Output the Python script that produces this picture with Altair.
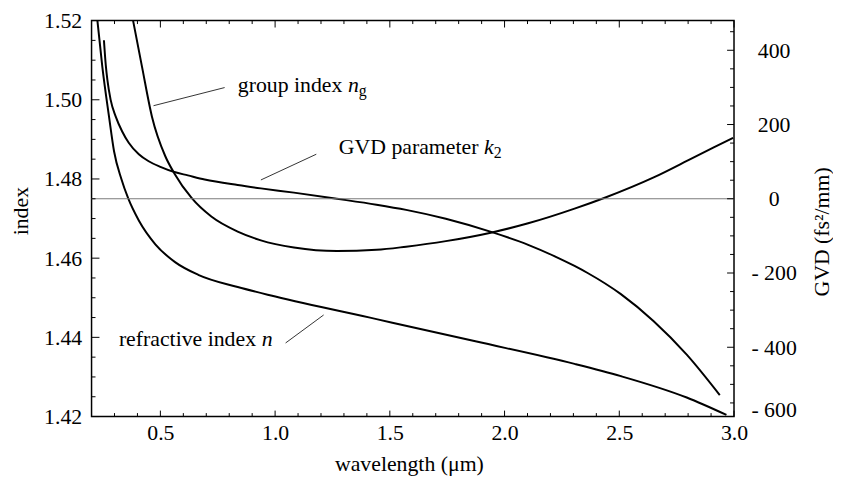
import altair as alt
import pandas as pd
import numpy as np

# ---------------- data ----------------
# refractive index n(lambda)
n_wl = [0.2255, 0.247, 0.276, 0.298, 0.330, 0.359, 0.406, 0.478, 0.564, 0.665, 0.837,
        1.001, 1.442, 1.873, 2.305, 2.507, 2.794, 2.967]
n_val = [1.5200, 1.5083, 1.4958, 1.4870, 1.4800, 1.4752, 1.4695, 1.4635, 1.4590, 1.4558, 1.4527,
         1.4503, 1.4446, 1.4390, 1.4333, 1.4302, 1.4248, 1.4204]

# group index n_g(lambda)
ng_wl = [0.381, 0.420, 0.463, 0.521, 0.561, 0.636, 0.722, 0.837, 0.938, 1.082,
         1.269, 1.442, 1.571, 1.744, 1.945, 2.103, 2.305, 2.434, 2.650, 2.823, 2.996]
ng_val = [1.5200, 1.5083, 1.4958, 1.4858, 1.4814, 1.4752, 1.4705, 1.4667, 1.4645, 1.4627,
          1.4618, 1.4621, 1.4629, 1.4643, 1.4665, 1.4688, 1.4725, 1.4752, 1.4804, 1.4854, 1.4904]

# GVD parameter k2 (fs^2/mm)
gvd_wl = [0.254, 0.262, 0.269, 0.283, 0.305, 0.333, 0.362, 0.406, 0.449, 0.500, 0.561,
          0.620, 0.693, 0.837, 0.938, 1.082, 1.269, 1.442, 1.571, 1.744, 1.945, 2.103, 2.219,
          2.305, 2.362, 2.507, 2.650, 2.794, 2.938]
gvd_val = [427, 360, 320, 267, 222, 182, 151, 120, 101, 86, 72,
           63, 52, 37, 28, 16.5, 0, -16, -30, -54, -90, -124, -155,
           -181, -200, -257, -330, -420, -529]

# axes
x_domain = [0.2, 3.0]
idx_domain = [1.42, 1.52]
gvd_domain = [-586.67, 480.0]

x_major = [0.5, 1.0, 1.5, 2.0, 2.5, 3.0]
x_minor = [round(v, 1) for v in np.arange(0.3, 3.0, 0.1) if round(v, 1) not in x_major]
idx_major = [1.42, 1.44, 1.46, 1.48, 1.50, 1.52]
idx_minor = [round(v, 3) for v in np.arange(1.425, 1.52, 0.005) if round(v, 3) not in idx_major]
gvd_major = [-400, -200, 0, 200, 400]
gvd_minor = [v for v in range(-550, 480, 50) if v not in gvd_major]
gvd_label_values = [gvd_domain[0], -400, -200, 0, 200, 400]
gvd_zero = [0]

# annotations (leader lines, in wavelength / index units)
lead_x = [0.470, 0.938, 1.0457]
lead_x2 = [0.780, 1.1795, 1.2115]
lead_y = [1.4985, 1.47975, 1.43858]
lead_y2 = [1.50308, 1.48625, 1.44565]

txt_norm = ["group index ", "GVD parameter ", "refractive index "]
txt_norm_x = [0.8372, 1.2775, 0.3191]
txt_norm_y = [1.50195, 1.4862, 1.43783]
txt_ital = ["n", "k", "n"]
txt_ital_x = [1.3172, 1.9103, 0.9417]
txt_ital_y = [1.50195, 1.4862, 1.43783]
txt_sub = ["g", "2"]
txt_sub_x = [1.3647, 1.9527]
txt_sub_y = [1.50095, 1.48533]

# ---------------- chart ----------------
W, H = 649, 400
FONT = "Liberation Serif"
NB = "\u00a0"

xaxis = alt.Axis(values=x_major, format=".1f", ticks=False, tickSize=0, domain=False,
                 grid=False, labelFlush=False, labelPadding=23, labelBaseline="alphabetic",
                 title="wavelength (\u03bcm)", titleX=320.6, titleY=54.7,
                 titleAlign="center", titleBaseline="alphabetic")

xsc = alt.Scale(domain=x_domain, nice=False, zero=False)
isc = alt.Scale(domain=idx_domain, nice=False, zero=False)
gsc = alt.Scale(domain=gvd_domain, nice=False, zero=False)


def xenc(f):
    return alt.X(f"{f}:Q", scale=xsc, axis=xaxis)


left_axis = alt.Axis(values=idx_major, format=".2f", ticks=False, tickSize=0, domain=False,
                     grid=False, labelPadding=10, title="index", titleAngle=270,
                     titleX=-64.4, titleY=192, titleAlign="center",
                     titleBaseline="alphabetic")

right_axis = alt.Axis(orient="right", values=gvd_label_values, ticks=False, tickSize=0,
                      domain=False, grid=False, labelAlign="center", labelPadding=40,
                      labelOverlap=False,
                      labelBaseline={"condition": {"test": "datum.value < -580",
                                                   "value": "alphabetic"},
                                     "value": "middle"},
                      labelExpr=(f"datum.value < -580 ? '- 600{NB}{NB}' : "
                                 f"datum.value < 0 ? '- ' + format(-datum.value, 'd') + '{NB}{NB}' : "
                                 f"format(datum.value, 'd')"),
                      title="GVD (fs\u00b2/mm)", titleAngle=270, titleX=95, titleY=213,
                      titleAlign="center", titleBaseline="alphabetic")

df_n = pd.DataFrame({"wl": n_wl, "v": n_val})
df_ng = pd.DataFrame({"wl": ng_wl, "v": ng_val})
df_g = pd.DataFrame({"wl": gvd_wl, "v": gvd_val})

line_kw = dict(color="black", strokeWidth=2, interpolate="monotone")

n_line = alt.Chart(df_n).mark_line(**line_kw).encode(
    x=xenc("wl"), y=alt.Y("v:Q", scale=isc, axis=left_axis))
ng_line = alt.Chart(df_ng).mark_line(**line_kw).encode(
    x=xenc("wl"), y=alt.Y("v:Q", scale=isc, axis=None))
g_line = alt.Chart(df_g).mark_line(**line_kw).encode(
    x=xenc("wl"), y=alt.Y("v:Q", scale=gsc, axis=right_axis))

zero = alt.Chart(pd.DataFrame({"v": gvd_zero})).mark_rule(color="#7a7a7a", strokeWidth=1).encode(
    y=alt.Y("v:Q", scale=gsc, axis=None), x=alt.value(0), x2=alt.value(W))

leaders = alt.Chart(pd.DataFrame({"x": lead_x, "x2": lead_x2, "y": lead_y, "y2": lead_y2})).mark_rule(
    color="#333333", strokeWidth=1).encode(
    x=xenc("x"), x2="x2:Q", y=alt.Y("y:Q", scale=isc, axis=None), y2="y2:Q")


def text_layer(texts, xs, ys, size, style):
    df = pd.DataFrame({"t": texts, "x": xs, "y": ys})
    return alt.Chart(df).mark_text(font=FONT, fontSize=size, fontStyle=style, align="left",
                                   baseline="alphabetic", color="black").encode(
        x=xenc("x"), y=alt.Y("y:Q", scale=isc, axis=None), text="t:N")


t_norm = text_layer(txt_norm, txt_norm_x, txt_norm_y, 22, "normal")
t_ital = text_layer(txt_ital, txt_ital_x, txt_ital_y, 22, "italic")
t_sub = text_layer(txt_sub, txt_sub_x, txt_sub_y, 16, "normal")


def yticks(vals, scale, x0, x1):
    return alt.Chart(pd.DataFrame({"v": vals})).mark_rule(color="black", strokeWidth=1).encode(
        y=alt.Y("v:Q", scale=scale, axis=None), x=alt.value(x0), x2=alt.value(x1))


def xticks(vals, y0, y1):
    return alt.Chart(pd.DataFrame({"v": vals})).mark_rule(color="black", strokeWidth=1).encode(
        x=xenc("v"), y=alt.value(y0), y2=alt.value(y1))


ticks = [
    yticks(idx_major, isc, 0, 8), yticks(idx_minor, isc, 0, 4),
    yticks(gvd_major, gsc, W, W - 7), yticks(gvd_minor, gsc, W, W - 4),
    xticks(x_major, H, H - 6), xticks(x_minor, H, H - 3.5),
    xticks(x_major, 0, 7), xticks(x_minor, 0, 3.5),
]

chart = alt.layer(n_line, ng_line, g_line, zero, leaders, t_norm, t_ital, t_sub, *ticks).resolve_scale(
    y="independent"
).properties(
    width=W, height=H,
    padding={"left": 84.4, "top": 10.3, "right": 100, "bottom": 62.7},
    autosize=alt.AutoSizeParams(type="none"),
).configure_view(
    stroke="black", strokeWidth=1.5
).configure_axis(
    labelFont=FONT, labelFontSize=22, labelColor="black",
    titleFont=FONT, titleFontSize=22, titleFontWeight="normal", titleColor="black",
)

chart.save("out.html", embed_options={"renderer": "svg", "actions": False})
